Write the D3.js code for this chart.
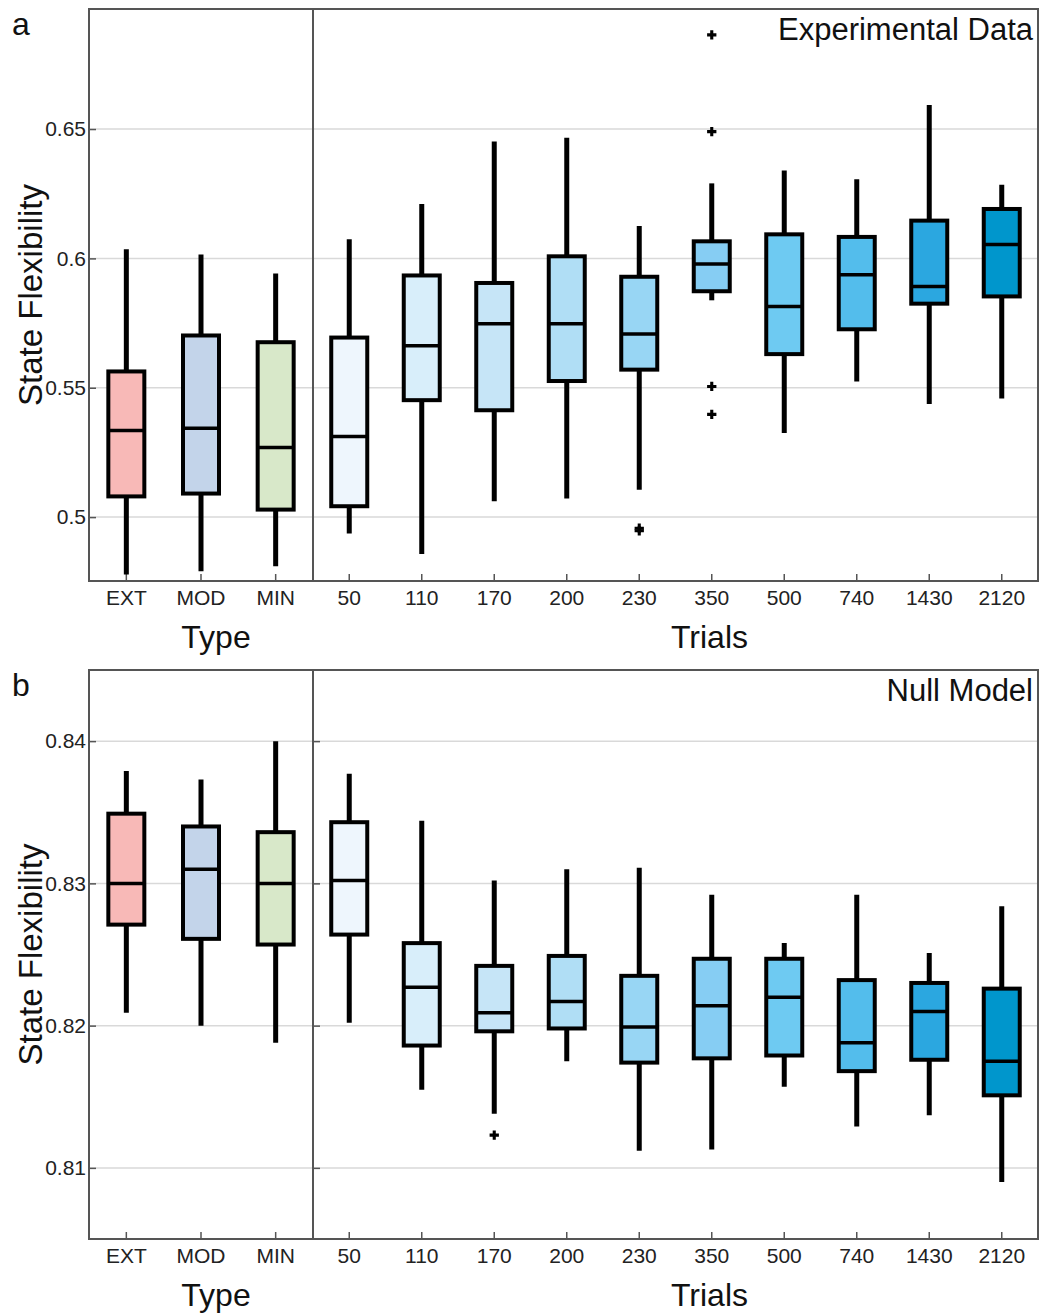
<!DOCTYPE html>
<html>
<head>
<meta charset="utf-8">
<script src="https://cdn.jsdelivr.net/npm/d3@7"></script>
<style>
  body { margin: 0; background: #fff; }
  text { font-family: "Liberation Sans", Arial, sans-serif; fill: #111; }
  .axis path { display: none; }
  .axis line { stroke: #555; stroke-width: 1.5; }
  .axis text { font-size: 21px; fill: #222; }
</style>
</head>
<body>
<div id="chart"></div>
<script>
// categories
var typeCats = ["EXT", "MOD", "MIN"]
var trialCats = ["50", "110", "170", "200", "230", "350", "500", "740", "1430", "2120"]

var typeColors = ["#f8b9b7", "#c3d4ea", "#d8e8c9"]
var trialColors = ["#eef6fd", "#d8eefa", "#c6e5f7", "#b0def5", "#98d6f4",
                   "#86cdf3", "#6ecaf2", "#53bdec", "#2ba7e0", "#0096cc"]

// [low whisker, q1, median, q3, high whisker]
var expType = [
  [0.4778, 0.5080, 0.5335, 0.5563, 0.6035],
  [0.4791, 0.5091, 0.5343, 0.5702, 0.6015],
  [0.4810, 0.5029, 0.5269, 0.5676, 0.5942]
]
var expTrials = [
  [0.4937, 0.5042, 0.5312, 0.5694, 0.6074],
  [0.4857, 0.5452, 0.5662, 0.5934, 0.6210],
  [0.5061, 0.5413, 0.5747, 0.5905, 0.6452],
  [0.5072, 0.5526, 0.5747, 0.6008, 0.6466],
  [0.5106, 0.5570, 0.5708, 0.5929, 0.6125],
  [0.5838, 0.5873, 0.5978, 0.6066, 0.6290],
  [0.5325, 0.5630, 0.5814, 0.6093, 0.6340],
  [0.5524, 0.5726, 0.5937, 0.6083, 0.6306],
  [0.5437, 0.5825, 0.5891, 0.6146, 0.6593],
  [0.5458, 0.5853, 0.6054, 0.6191, 0.6285]
]
var expOutliers = [
  ["230", 0.4957], ["230", 0.4947],
  ["350", 0.6864], ["350", 0.6490], ["350", 0.5505], ["350", 0.5397]
]

var nullType = [
  [0.8209, 0.8271, 0.8300, 0.8349, 0.8379],
  [0.8200, 0.8261, 0.8310, 0.8340, 0.8373],
  [0.8188, 0.8257, 0.8300, 0.8336, 0.8400]
]
var nullTrials = [
  [0.8202, 0.8264, 0.8302, 0.8343, 0.8377],
  [0.8155, 0.8186, 0.8227, 0.8258, 0.8344],
  [0.8138, 0.8196, 0.8209, 0.8242, 0.8302],
  [0.8175, 0.8198, 0.8217, 0.8249, 0.8310],
  [0.8112, 0.8174, 0.8199, 0.8235, 0.8311],
  [0.8113, 0.8177, 0.8214, 0.8247, 0.8292],
  [0.8157, 0.8179, 0.8220, 0.8247, 0.8258],
  [0.8129, 0.8168, 0.8188, 0.8232, 0.8292],
  [0.8137, 0.8176, 0.8210, 0.8230, 0.8251],
  [0.8090, 0.8151, 0.8175, 0.8226, 0.8284]
]
var nullOutliers = [["170", 0.8123]]

var expTicks = [0.5, 0.55, 0.6, 0.65]
var nullTicks = [0.81, 0.82, 0.83, 0.84]

var svg = d3.select("#chart").append("svg")
  .attr("width", 1042)
  .attr("height", 1313)

var left = 89, split = 313, right = 1038, boxW = 36

function panel(opts) {
  var g = svg.append("g")
  var y = d3.scaleLinear().domain(opts.domain).range([opts.bottom, opts.top])
  var xType = d3.scaleBand().domain(typeCats).range([left, split])
  var xTrial = d3.scaleBand().domain(trialCats).range([split, right])

  // gridlines
  g.selectAll(".grid")
    .data(opts.ticks)
    .enter().append("line")
    .attr("x1", left).attr("x2", right)
    .attr("y1", function (d) { return y(d) })
    .attr("y2", function (d) { return y(d) })
    .attr("stroke", "#d9d9d9")
    .attr("stroke-width", 1.5)

  // y axis
  g.append("g")
    .attr("class", "axis")
    .attr("transform", "translate(" + left + ",0)")
    .call(d3.axisLeft(y).tickValues(opts.ticks).tickSize(-7).tickPadding(3).tickFormat(d3.format("")))

  if (opts.splitTicks) {
    g.append("g")
      .attr("class", "axis")
      .attr("transform", "translate(" + split + ",0)")
      .call(d3.axisLeft(y).tickValues(opts.ticks).tickSize(-7).tickFormat(""))
  }

  // x axes
  g.append("g")
    .attr("class", "axis")
    .attr("transform", "translate(0," + opts.bottom + ")")
    .call(d3.axisBottom(xType).tickSize(-7).tickPadding(9))
  g.append("g")
    .attr("class", "axis")
    .attr("transform", "translate(0," + opts.bottom + ")")
    .call(d3.axisBottom(xTrial).tickSize(-7).tickPadding(9))

  function boxes(data, cats, x, colors) {
    var b = g.selectAll(null)
      .data(data)
      .enter().append("g")
      .attr("transform", function (d, i) {
        return "translate(" + (x(cats[i]) + x.bandwidth() / 2) + ",0)"
      })

    b.append("line")
      .attr("x1", 0).attr("x2", 0)
      .attr("y1", function (d) { return y(d[0]) })
      .attr("y2", function (d) { return y(d[4]) })
      .attr("stroke", "#000")
      .attr("stroke-width", 5)

    b.append("rect")
      .attr("x", -boxW / 2)
      .attr("width", boxW)
      .attr("y", function (d) { return y(d[3]) })
      .attr("height", function (d) { return y(d[1]) - y(d[3]) })
      .attr("fill", function (d, i) { return colors[i] })
      .attr("stroke", "#000")
      .attr("stroke-width", 4)

    b.append("line")
      .attr("x1", -boxW / 2).attr("x2", boxW / 2)
      .attr("y1", function (d) { return y(d[2]) })
      .attr("y2", function (d) { return y(d[2]) })
      .attr("stroke", "#000")
      .attr("stroke-width", 3.5)
  }

  boxes(opts.typeData, typeCats, xType, typeColors)
  boxes(opts.trialData, trialCats, xTrial, trialColors)

  g.selectAll(".outlier")
    .data(opts.outliers)
    .enter().append("path")
    .attr("d", d3.symbol().type(d3.symbolCross).size(48))
    .attr("transform", function (d) {
      return "translate(" + (xTrial(d[0]) + xTrial.bandwidth() / 2) + "," + y(d[1]) + ")"
    })
    .attr("fill", "#000")

  // frame
  g.append("rect")
    .attr("x", left).attr("y", opts.top)
    .attr("width", right - left).attr("height", opts.bottom - opts.top)
    .attr("fill", "none")
    .attr("stroke", "#555")
    .attr("stroke-width", 2)
  g.append("line")
    .attr("x1", split).attr("x2", split)
    .attr("y1", opts.top).attr("y2", opts.bottom)
    .attr("stroke", "#555")
    .attr("stroke-width", 2)

  // labels
  g.append("text")
    .attr("x", 12).attr("y", opts.top + 26)
    .attr("font-size", 32)
    .text(opts.letter)
  g.append("text")
    .attr("x", right - 5).attr("y", opts.top + 31)
    .attr("text-anchor", "end")
    .attr("font-size", 31)
    .text(opts.title)
  g.append("text")
    .attr("transform", "translate(42," + ((opts.top + opts.bottom) / 2) + ") rotate(-90)")
    .attr("text-anchor", "middle")
    .attr("font-size", 33)
    .text("State Flexibility")
  g.append("text")
    .attr("x", (left + split) / 2 + 15).attr("y", opts.bottom + 67)
    .attr("text-anchor", "middle")
    .attr("font-size", 32)
    .text("Type")
  g.append("text")
    .attr("x", (split + right) / 2 + 34).attr("y", opts.bottom + 67)
    .attr("text-anchor", "middle")
    .attr("font-size", 32)
    .text("Trials")
}

panel({
  top: 9, bottom: 581, domain: [0.4753, 0.6964], ticks: expTicks,
  typeData: expType, trialData: expTrials, outliers: expOutliers,
  letter: "a", title: "Experimental Data", splitTicks: false
})

panel({
  top: 670, bottom: 1239, domain: [0.805, 0.845], ticks: nullTicks,
  typeData: nullType, trialData: nullTrials, outliers: nullOutliers,
  letter: "b", title: "Null Model", splitTicks: true
})
</script>
</body>
</html>
